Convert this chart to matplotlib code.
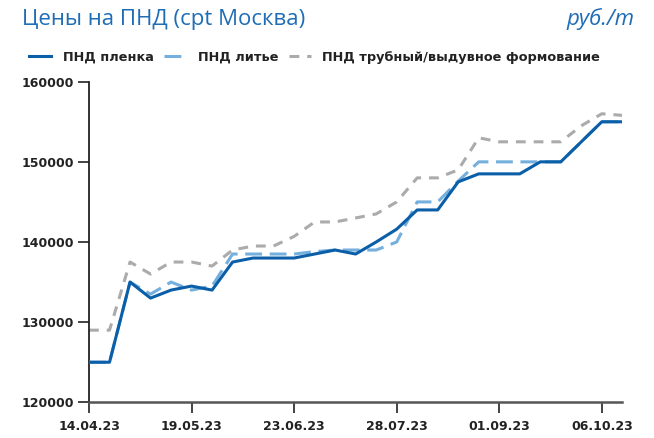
import matplotlib
matplotlib.use("Agg")
import matplotlib.pyplot as plt
import pandas as pd

dates = pd.date_range("2023-04-14", periods=27, freq="7D")

film = [125000, 125000, 135000, 133000, 134000, 134500, 134000, 137500, 138000, 138000,
        138000, 138500, 139000, 138500, 140000, 141600, 144000, 144000, 147500, 148500,
        148500, 148500, 150000, 150000, 152500, 155000, 155000]
casting = [125000, 125000, 135000, 133500, 135000, 134000, 134500, 138500, 138500, 138500,
           138500, 138800, 139000, 139000, 139000, 140000, 145000, 145000, 147600, 150000,
           150000, 150000, 150000, 150000, 152500, 155000, 155000]
pipe = [129000, 129000, 137500, 136000, 137500, 137500, 137000, 139000, 139500, 139500,
        140700, 142500, 142500, 143000, 143500, 145000, 148000, 148000, 149000, 153000,
        152500, 152500, 152500, 152500, 154500, 156000, 155800]

labels = ["ПНД пленка", "ПНД литье", "ПНД трубный/выдувное формование"]
tick_dates = ["14.04.23", "19.05.23", "23.06.23", "28.07.23", "01.09.23", "06.10.23"]
yticks = [120000, 130000, 140000, 150000, 160000]

c_film = "#0b5ea8"
c_cast = "#74afdd"
c_pipe = "#ababab"

fig = plt.figure(figsize=(6.54, 4.38), dpi=100)
ax = fig.add_axes([89/654, 1-402.3/438, (622.3-89)/654, (402.3-81.7)/438])

l3, = ax.plot(dates, pipe, color=c_pipe, lw=2.2, dashes=(3.2, 2.6), zorder=2)
l2, = ax.plot(dates, casting, color=c_cast, lw=2.2, dashes=(5.5, 2.5), zorder=3)
l1, = ax.plot(dates, film, color=c_film, lw=2.2, zorder=4)

ax.set_xlim(dates[0], dates[-1])
ax.set_ylim(120000, 160000)
ax.set_yticks(yticks)
ax.set_yticklabels([str(v) for v in yticks])
tpos = [pd.to_datetime(d, format="%d.%m.%y") for d in tick_dates]
ax.set_xticks(tpos)
ax.set_xticklabels(tick_dates)

for s in ["top", "right"]:
    ax.spines[s].set_visible(False)
ax.spines["left"].set_color("#222222")
ax.spines["left"].set_linewidth(1.3)
ax.spines["bottom"].set_color("#555555")
ax.spines["bottom"].set_linewidth(1.8)
ax.tick_params(axis="both", direction="out", length=8, width=1.2, color="#222222")
ax.tick_params(axis="y", pad=3)
ax.tick_params(axis="x", pad=5)
for t in ax.get_yticklabels() + ax.get_xticklabels():
    t.set_fontfamily("DejaVu Sans")
    t.set_fontweight("bold")
    t.set_fontsize(9)
    t.set_color("#222222")

fig.text(22/654, 1-19/438, "Цены на ПНД (cpt Москва)", fontsize=16, color="#1f6db5",
         family=["Open Sans", "DejaVu Sans"], va="center", ha="left")
fig.text(634/654, 1-19/438, "руб./т", fontsize=16, color="#1f6db5", style="italic",
         family=["Open Sans", "DejaVu Sans"], va="center", ha="right")

leg = fig.legend([l1, l2, l3], labels, loc="center left", bbox_to_anchor=(19/654, 1-57/438),
                 ncol=3, frameon=False, handlelength=1.7, handletextpad=0.9, columnspacing=0.8,
                 borderpad=0.3, prop={"family": "DejaVu Sans", "weight": "bold", "size": 9.3})
for t in leg.get_texts():
    t.set_color("#222222")

fig.savefig("out.png", dpi=100)
